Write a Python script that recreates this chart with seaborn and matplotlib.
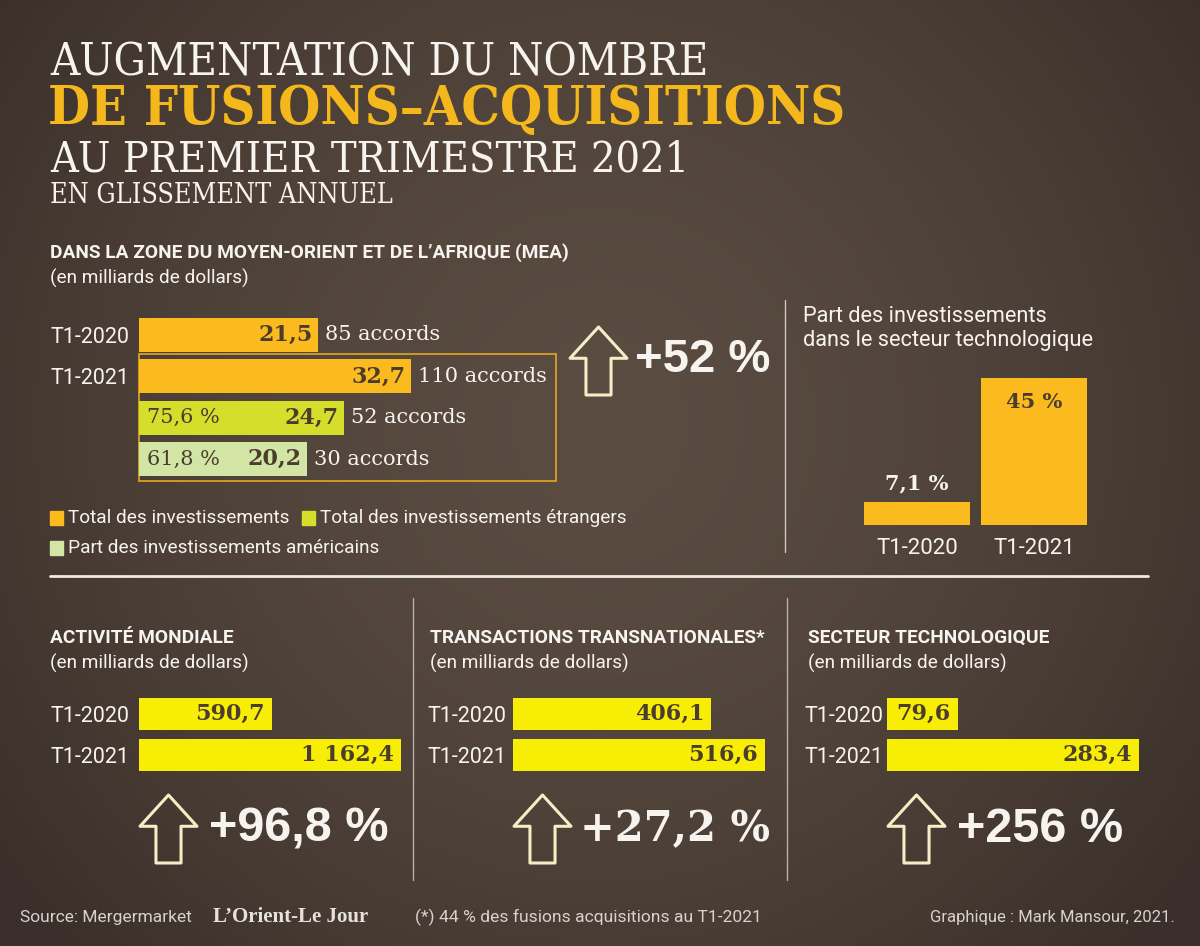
import numpy as np
import matplotlib
matplotlib.use("Agg")
import matplotlib.pyplot as plt
from matplotlib.patches import Polygon, Rectangle
import seaborn as sns

# ---- data ----
mea_rows = ["T1-2020", "T1-2021", "Etrangers", "Americains"]
mea_ticks = ["T1-2020", "T1-2021", "", ""]
mea_values = [21.5, 32.7, 24.7, 20.2]
mea_deals = [85, 110, 52, 30]
mea_shares = [None, None, 75.6, 61.8]
mea_growth = "+52 %"

legend_labels = ["Total des investissements", "Total des investissements étrangers",
                 "Part des investissements américains"]

tech_periods = ["T1-2020", "T1-2021"]
tech_share = [7.1, 45]

periods = ["T1-2020", "T1-2021"]
world_values = [590.7, 1162.4]
cross_values = [406.1, 516.6]
techsec_values = [79.6, 283.4]
panel_titles = ["ACTIVITÉ MONDIALE", "TRANSACTIONS TRANSNATIONALES*", "SECTEUR TECHNOLOGIQUE"]
panel_growth = ["+96,8 %", "+27,2 %", "+256 %"]

# ---- style ----
ORANGE = "#fbbb1e"
LIME = "#d6de2c"
PALE = "#d3e5a5"
YELLOW = "#f8ee05"
DARK = "#4b3d2e"
GOLD = "#f5b81c"
CREAM = "#f3eec5"
WHITE = "#f7f4ef"

sns.set_theme(style="white")
plt.rcParams["font.family"] = ["Roboto", "DejaVu Sans"]

W, H = 1200, 946
fig = plt.figure(figsize=(12, 9.46), dpi=100)

bg = fig.add_axes([0, 0, 1, 1])
bg.set_xlim(0, W)
bg.set_ylim(H, 0)
bg.axis("off")

# dark vignette background
yy, xx = np.mgrid[0:1:200j, 0:1:240j]
r = np.sqrt(((xx - 0.5) / 0.62) ** 2 + ((yy - 0.45) / 0.8) ** 2)
t = np.clip(r, 0, 1) ** 1.6
c_in = np.array([0x5a, 0x4c, 0x41]) / 255
c_out = np.array([0x3a, 0x2f, 0x2a]) / 255
img = c_in[None, None, :] * (1 - t[..., None]) + c_out[None, None, :] * t[..., None]
bg.imshow(img, extent=[0, W, H, 0], aspect="auto", zorder=0)


def fr(v, nd=1):
    return f"{v:,.{nd}f}".replace(",", " ").replace(".", ",")


def px_axes(x0, y0, x1, y1):
    ax = fig.add_axes([x0 / W, 1 - y1 / H, (x1 - x0) / W, (y1 - y0) / H])
    ax.patch.set_alpha(0)
    sns.despine(ax=ax, left=True, bottom=True)
    return ax


def arrow(left, top, w=57, h=68):
    cx = left + w / 2
    hh = h * 0.46
    sw = w * 0.22
    pts = [(cx, top), (left + w, top + hh), (cx + sw, top + hh), (cx + sw, top + h),
           (cx - sw, top + h), (cx - sw, top + hh), (left, top + hh)]
    bg.add_patch(Polygon(pts, closed=True, fill=False, edgecolor=CREAM, lw=2.2,
                         joinstyle="round", zorder=3))


# ---- title ----
serif_c = dict(family="DejaVu Serif", fontstretch="condensed", va="baseline")
bg.text(50, 75, "AUGMENTATION DU NOMBRE", color=WHITE, fontsize=32.5, **serif_c)
bg.text(48, 125, "DE FUSIONS–ACQUISITIONS", color=GOLD, fontsize=38.8, fontweight="bold",
        **serif_c)
bg.text(50, 172, "AU PREMIER TRIMESTRE 2021", color=WHITE, fontsize=31, **serif_c)
bg.text(50, 203, "EN GLISSEMENT ANNUEL", color=WHITE, fontsize=19.4, **serif_c)

# ---- MEA section ----
bg.text(50, 258, "DANS LA ZONE DU MOYEN-ORIENT ET DE L’AFRIQUE (MEA)", color=WHITE,
        fontsize=13.8, fontweight="bold", va="baseline")
bg.text(50, 284, "(en milliards de dollars)", color=WHITE, fontsize=13.7, va="baseline")

bg.add_patch(Rectangle((139, 354), 556 - 139, 481 - 354, fill=False,
                       edgecolor="#d9a020", lw=1.3, zorder=2))

ax = px_axes(139, 314.3, 411, 479.7)
sns.barplot(x=mea_values, y=mea_rows, hue=mea_rows, palette=[ORANGE, ORANGE, LIME, PALE],
            width=0.83, saturation=1, legend=False, linewidth=0, ax=ax)
ax.set_xlim(0, max(mea_values))
ax.set_ylim(len(mea_rows) - 0.5, -0.5)
ax.set_xticks([])
ax.set_yticks(range(len(mea_rows)))
ax.set_yticklabels(mea_ticks)
ax.tick_params(axis="y", length=0, pad=7, labelcolor=WHITE, labelsize=15.5)
ax.set_xlabel("")
ax.set_ylabel("")
for i, v in enumerate(mea_values):
    ax.annotate(fr(v), (v, i), xytext=(-4, 0), textcoords="offset points", ha="right",
                va="center", color=DARK, fontsize=16, fontweight="bold", family="DejaVu Serif")
    ax.annotate(f"{mea_deals[i]} accords", (v, i), xytext=(5, 0), textcoords="offset points",
                ha="left", va="center", color=WHITE, fontsize=15, family="DejaVu Serif",
                annotation_clip=False)
    if mea_shares[i] is not None:
        ax.annotate(fr(mea_shares[i]) + " %", (0, i), xytext=(6, 0), textcoords="offset points",
                    ha="left", va="center", color=DARK, fontsize=15, family="DejaVu Serif")

arrow(570, 327)
bg.text(635, 360, mea_growth, color=WHITE, fontsize=34, fontweight="bold",
        family="Liberation Sans", va="center")

# legend
leg_pos = [(50, 518), (302, 518), (50, 548)]
for (lx, ly), lab, col in zip(leg_pos, legend_labels, [ORANGE, LIME, PALE]):
    bg.add_patch(Rectangle((lx, ly - 7), 13, 14, color=col, zorder=2))
    bg.text(lx + 18, ly, lab, color=WHITE, fontsize=13.7, va="center")

# ---- tech share panel ----
bg.plot([785, 785], [300, 552], color="#cfc8c0", lw=1)
bg.text(803, 322, "Part des investissements", color=WHITE, fontsize=15.7, va="baseline")
bg.text(803, 346, "dans le secteur technologique", color=WHITE, fontsize=15.7, va="baseline")

ax = px_axes(858.5, 361.7, 1092.5, 525)
sns.barplot(x=tech_periods, y=tech_share, hue=tech_periods, palette=[ORANGE, ORANGE],
            width=0.906, saturation=1, legend=False, linewidth=0, ax=ax)
ax.set_xlim(-0.5, 1.5)
ax.set_ylim(0, 50)
ax.set_yticks([])
ax.tick_params(axis="x", length=0, pad=9, labelcolor=WHITE, labelsize=16)
ax.set_xlabel("")
ax.set_ylabel("")
ax.annotate(fr(tech_share[0]) + " %", (0, tech_share[0]), xytext=(0, 6),
            textcoords="offset points", ha="center", va="bottom", color=WHITE,
            fontsize=15, fontweight="bold", family="DejaVu Serif")
ax.annotate(fr(tech_share[1], 0) + " %", (1, tech_share[1]), xytext=(0, -10),
            textcoords="offset points", ha="center", va="top", color=DARK,
            fontsize=15, fontweight="bold", family="DejaVu Serif")

bg.plot([50, 1148], [576, 576], color="#f0ebe0", lw=2)
for x in (413, 787):
    bg.plot([x, x], [598, 880], color="#b9b1a8", lw=1)

# ---- bottom panels ----
panels = [
    (50, 139, 401, world_values, 7),
    (430, 513, 765, cross_values, 5),
    (808, 887, 1139, techsec_values, 2.5),
]
for k, (tx, x0, x1, vals, pad) in enumerate(panels):
    bg.text(tx, 643, panel_titles[k], color=WHITE, fontsize=13.8, fontweight="bold", va="baseline")
    bg.text(tx, 669, "(en milliards de dollars)", color=WHITE, fontsize=13.7, va="baseline")
    ax = px_axes(x0, 693.5, x1, 775.5)
    sns.barplot(x=vals, y=periods, hue=periods, palette=[YELLOW, YELLOW],
                width=0.8, saturation=1, legend=False, linewidth=0, ax=ax)
    ax.set_xlim(0, max(vals))
    ax.set_ylim(1.5, -0.5)
    ax.set_xticks([])
    ax.tick_params(axis="y", length=0, pad=pad, labelcolor=WHITE, labelsize=15.5)
    ax.set_xlabel("")
    ax.set_ylabel("")
    for i, v in enumerate(vals):
        ax.annotate(fr(v), (v, i), xytext=(-5, 0), textcoords="offset points", ha="right",
                    va="center", color=DARK, fontsize=16, fontweight="bold",
                    family="DejaVu Serif")
    arrow(x0 + 1, 795)
    if k == 1:
        bg.text(x0 + 67, 829, panel_growth[k], color=WHITE, fontsize=30, fontweight="bold",
                family="DejaVu Serif", va="center")
    else:
        bg.text(x0 + 70, 829, panel_growth[k], color=WHITE, fontsize=35, fontweight="bold",
                family="Liberation Sans", va="center")

# ---- footer ----
FOOT = "#d8d2cc"
bg.text(20, 922, "Source: Mergermarket", color=FOOT, fontsize=12.5, va="baseline")
bg.text(213, 922, "L’Orient-Le Jour", color="#e6e1dc", fontsize=15, fontweight="bold",
        family="Liberation Serif", va="baseline")
bg.text(415, 922, "(*) 44 % des fusions acquisitions au T1-2021", color=FOOT, fontsize=12.6,
        va="baseline")
bg.text(1175, 922, "Graphique : Mark Mansour, 2021.", color=FOOT, fontsize=12,
        va="baseline", ha="right")

fig.savefig("out.png", dpi=100)
